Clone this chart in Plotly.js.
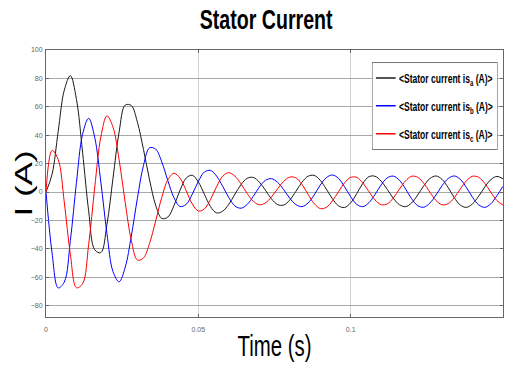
<!DOCTYPE html>
<html>
<head>
<meta charset="utf-8">
<script src="https://cdn.plot.ly/plotly-3.0.1.min.js"></script>
<style>html,body{margin:0;padding:0;background:#fff;}#chart{width:508px;height:377px;}</style>
</head>
<body>
<div id="chart"></div>
<script>
var timeS = [0,0.002,0.004,0.006,0.008,0.010,0.012,0.014,0.016,0.018,0.020,0.022,0.024,0.026,0.028,0.030,0.032,0.034,0.036,0.038,0.040,0.042,0.044,0.046,0.048,0.050,0.052,0.054,0.056,0.058,0.060,0.062,0.064,0.066,0.068,0.070,0.072,0.074,0.076,0.078,0.080,0.082,0.084,0.086,0.088,0.090,0.092,0.094,0.096,0.098,0.100,0.102,0.104,0.106,0.108,0.110,0.112,0.114,0.116,0.118,0.120,0.122,0.124,0.126,0.128,0.130,0.132,0.134,0.136,0.138,0.140,0.142,0.144,0.146,0.148,0.150];
var isA = [0,12.6,42.7,71.7,81.9,65.2,28.1,-13.2,-40.7,-42.7,-22.9,9.9,42.3,61.2,60.9,49.2,29.9,8.5,-9.3,-18.6,-17.6,-9.6,1.3,9.8,11.8,7.1,-1.6,-10.3,-14.7,-13.5,-8.6,-1.6,5.2,9.6,10.3,7.0,1.3,-4.8,-8.8,-9.2,-5.7,0.4,6.8,11.1,11.7,8.3,2.1,-4.7,-9.7,-10.9,-7.6,-1.1,6.1,10.8,11.1,7.7,1.9,-4.4,-8.9,-10.3,-7.7,-2.1,4.4,9.5,11.3,8.9,3.1,-3.9,-9.2,-10.8,-8.3,-3.0,3.5,8.7,11.0,9.3];
var isB = [0,-43.0,-67.5,-63.4,-34.1,6.8,40.6,51.9,38.3,7.1,-29.1,-56.1,-63.2,-52.9,-31.0,-4.4,18.8,31.1,30.2,21.2,8.0,-4.0,-10.2,-8.7,-1.6,7.5,14.1,15.2,11.2,4.0,-3.9,-9.8,-11.4,-8.8,-3.2,3.4,8.2,9.4,6.9,1.7,-4.3,-8.8,-10.3,-7.8,-2.1,4.8,10.1,12.0,9.6,3.7,-3.3,-8.7,-10.3,-7.5,-1.7,5.0,9.9,11.2,8.3,2.2,-4.7,-9.6,-10.7,-7.8,-2.1,4.5,9.5,11.3,8.9,3.2,-3.7,-9.0,-10.8,-8.3,-2.6,4.1];
var isC = [0,29.3,22.9,-7.2,-43.9,-67.4,-64.6,-37.0,3.4,38.8,53.6,45.6,22.6,-7.4,-34.0,-47.9,-46.4,-36.1,-20.3,-3.8,8.6,13.2,9.7,1.0,-8.3,-13.4,-11.9,-5.2,3.8,11.2,13.6,11.2,5.8,-0.9,-6.4,-9.0,-7.7,-3.5,2.2,7.5,10.5,10.0,5.4,-1.6,-8.1,-11.6,-10.8,-6.3,0.2,6.5,10.3,10.3,6.4,0.3,-5.6,-8.9,-8.4,-4.2,2.0,7.8,11.1,10.4,6.2,-0.1,-5.9,-9.0,-8.2,-4.0,2.2,7.9,11.1,10.4,6.2,-0.1,-6.0,-9.2];
var seriesNames = ['&lt;Stator current is<sub>a</sub> (A)&gt;','&lt;Stator current is<sub>b</sub> (A)&gt;','&lt;Stator current is<sub>c</sub> (A)&gt;'];
var seriesColors = ['#1a1a1a','#0000ff','#ff0000'];
var seriesValues = [isA, isB, isC];
var yTicks = [100,80,60,40,20,0,-20,-40,-60,-80];
var xTicks = [0,0.05,0.1,0.15];
var xTickText = ['0','0.05','0.1','0.15'];

var sans = '"Liberation Sans", Arial, Helvetica, sans-serif';
var traces = seriesValues.map(function(v,i){
  return {x: timeS, y: v, type:'scatter', mode:'lines', name: seriesNames[i],
    legendgroup: 'g'+i,
    line:{color: seriesColors[i], width:1, shape:'spline', smoothing:1}};
});
var layout = {
  width:508, height:377,
  margin:{l:46, r:5, t:50, b:60},
  paper_bgcolor:'#fff', plot_bgcolor:'#fff',
  title:{text:'<b>Stator Current</b>', font:{family:sans, size:28, color:'#000'}, x:0.524, xanchor:'center', y:0.974, yanchor:'top'},
  showlegend:true,
  legend:{x:0.989, xanchor:'right', y:0.955, yanchor:'top', bgcolor:'#fff', bordercolor:'#777', borderwidth:1,
    font:{family:sans, size:13, color:'#000', weight:'bold'}, traceorder:'grouped', tracegroupgap:8},
  xaxis:{range:[0,0.15], tickvals:xTicks, ticktext:xTickText, showgrid:true, gridcolor:'#d4d4d4', gridwidth:1,
    zeroline:false, showline:true, linecolor:'#666', linewidth:1, mirror:'ticks', ticks:'inside', ticklen:3, tickcolor:'#666',
    tickfont:{family:sans, size:7, color:'#666'}, ticklabelstandoff:6,
    title:{text:'Time (s)', font:{family:sans, size:30, color:'#000'}, standoff:2}},
  yaxis:{range:[-88,100], tickvals:yTicks, showgrid:true, gridcolor:'#a8a8a8', gridwidth:1,
    zeroline:false, showline:true, linecolor:'#666', linewidth:1, mirror:'ticks', ticks:'inside', ticklen:3, tickcolor:'#666',
    tickfont:{family:sans, size:7, color:'#666'}, ticklabelstandoff:1,
    title:{text:'I (A)', font:{family:sans, size:35, color:'#000'}, standoff:3}}
};

function squeezeText(sel, k){
  var el = document.querySelector(sel);
  if(!el) return;
  var x = parseFloat(el.getAttribute('x')) || 0;
  var prev = el.getAttribute('transform') || '';
  el.setAttribute('transform', 'translate(' + x + ',0) scale(' + k + ',1) translate(' + (-x) + ',0) ' + prev);
}
Plotly.newPlot('chart', traces, layout, {staticPlot:true, displayModeBar:false}).then(function(){
  squeezeText('#chart .g-gtitle text.gtitle', 0.70);
  squeezeText('#chart .g-xtitle text.xtitle', 0.68);
  squeezeText('#chart .g-ytitle text.ytitle', 0.70);
  var lg = document.querySelector('#chart g.legend');
  if(lg){
    var bg = lg.querySelector('rect.bg');
    var w = bg ? parseFloat(bg.getAttribute('width')) : 0;
    var m = /translate\(\s*([-\d.]+)[ ,]+([-\d.]+)\s*\)/.exec(lg.getAttribute('transform') || '');
    if(m){
      var k = 125 / w;
      var tx = parseFloat(m[1]) + w * (1 - k);
      lg.setAttribute('transform', 'translate(' + tx + ',' + m[2] + ') scale(' + k + ',1)');
    }
    var paths = lg.querySelectorAll('path.js-line');
    for(var i=0;i<paths.length;i++){ paths[i].style.strokeWidth = '1.5px'; }
  }
});
</script>
</body>
</html>
